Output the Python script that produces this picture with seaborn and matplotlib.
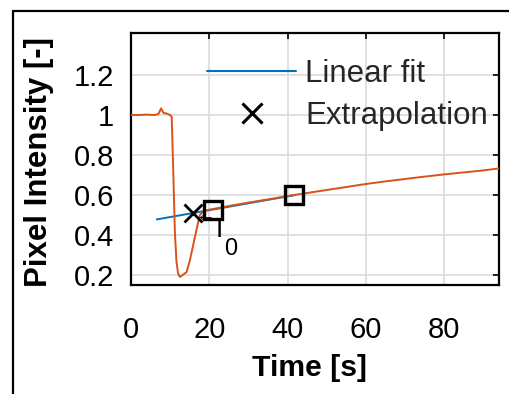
import matplotlib
matplotlib.use("Agg")
import matplotlib.pyplot as plt
import seaborn as sns
import pandas as pd
from matplotlib.lines import Line2D
from matplotlib.ticker import FixedLocator, FixedFormatter

# ---- data ----
time_s = [0, 2, 4, 6, 7, 7.7, 8.3, 9, 10, 10.4, 10.8, 11.2, 11.6, 12.0, 12.5,
          13.2, 14.2, 15.0, 16.0, 17.0, 17.6, 18.5, 19.5, 21, 25, 30, 35, 40,
          45, 50, 55, 60, 65, 70, 75, 80, 85, 90, 94]
intensity = [1.0, 1.0, 1.002, 1.0, 1.005, 1.033, 1.01, 1.008, 1.0, 0.99, 0.72,
             0.42, 0.27, 0.21, 0.19, 0.2, 0.215, 0.27, 0.36, 0.45, 0.50, 0.52,
             0.525, 0.53, 0.545, 0.562, 0.578, 0.595, 0.61, 0.625, 0.64, 0.655,
             0.668, 0.68, 0.692, 0.703, 0.713, 0.723, 0.733]
fit_t = [6.6, 42]
fit_y = [0.478, 0.600]
extrap_t = [15.8]
extrap_y = [0.51]
square_t = [21, 41.6]
square_y = [0.525, 0.60]
i0_t, i0_y = 22.48, 0.39        # "I" of the I0 label (baseline)
sub_t, sub_y = 23.9, 0.30       # subscript "0" (baseline)
arrow_t, arrow_y = 21.4, 0.49   # arrow of the label (right end, centre)
xticks = [0, 20, 40, 60, 80]
xtick_labels = ["0", "20", "40", "60", "80"]
yticks = [0.2, 0.4, 0.6, 0.8, 1.0, 1.2]
ytick_labels = ["0.2", "0.4", "0.6", "0.8", "1", "1.2"]

BLUE = "#0072BD"
ORANGE = "#D95319"

sns.set_theme(style="white")
plt.rcParams["font.family"] = ["Liberation Sans", "DejaVu Sans"]

fig = plt.figure(figsize=(5.09, 3.94), dpi=100)
ax = fig.add_axes([131 / 509, 1 - 285 / 394, (499 - 131) / 509, (285 - 33) / 394])

df = pd.DataFrame({"t": time_s, "y": intensity})
dfit = pd.DataFrame({"t": fit_t, "y": fit_y})

sns.lineplot(data=dfit, x="t", y="y", ax=ax, color=BLUE, lw=1.4, zorder=3)
sns.lineplot(data=df, x="t", y="y", ax=ax, color=ORANGE, lw=1.4, zorder=4)
ax.plot(extrap_t, extrap_y, linestyle="none", marker="x", color="black",
        markersize=12.5, markeredgewidth=2.0, zorder=6)
ax.text(i0_t, i0_y, "I", fontsize=19, color="black", ha="center",
        va="baseline", zorder=5)
ax.text(sub_t, sub_y, "0", fontsize=17, color="black", ha="left",
        va="baseline", zorder=5)
ax.text(arrow_t, arrow_y, "\u2190", fontsize=14, color="black", ha="right",
        va="center", zorder=5)
ax.plot(square_t, square_y, linestyle="none", marker="s", markerfacecolor="none",
        markeredgecolor="black", markersize=13.5, markeredgewidth=2.4, zorder=7)

ax.set_xlim(0, 94)
ax.set_ylim(0.15, 1.41)
ax.xaxis.set_major_locator(FixedLocator(xticks))
ax.xaxis.set_major_formatter(FixedFormatter(xtick_labels))
ax.yaxis.set_major_locator(FixedLocator(yticks))
ax.yaxis.set_major_formatter(FixedFormatter(ytick_labels))
ax.grid(True, color="#dddddd", lw=1.3)
ax.set_axisbelow(True)
for s in ax.spines.values():
    s.set_color("black")
    s.set_linewidth(1.6)
ax.tick_params(axis="both", direction="in", length=4, width=1.2, color="black",
               top=True, right=True, labelsize=21, labelcolor="black")
ax.tick_params(axis="x", pad=22)
ax.tick_params(axis="y", pad=12)

ax.set_xlabel("Time [s]", fontsize=21.7, fontweight="bold", color="black")
ax.set_ylabel("Pixel Intensity [-]", fontsize=22.5, fontweight="bold", color="black")
ax.xaxis.set_label_coords((310 - 131) / 368, -(354 - 285) / 252)
ax.yaxis.set_label_coords(-(131 - 54) / 368, (285 - 162) / 252)

handles = [Line2D([], [], color=BLUE, lw=1.5),
           Line2D([], [], linestyle="none", marker="x", color="black",
                  markersize=14.5, markeredgewidth=2.2)]
ax.legend(handles, ["Linear fit", "Extrapolation"], frameon=False, fontsize=22.5,
          loc="upper left", bbox_to_anchor=((207 - 131) / 368, (285 - 59) / 252),
          handlelength=2.85, handletextpad=0.3, labelspacing=0.38, borderpad=0,
          borderaxespad=0)

# outer border (partially visible frame)
fig.add_artist(Line2D([13 / 509, 13 / 509], [0, 1 - 11 / 394], color="black",
                      lw=1.6, transform=fig.transFigure))
fig.add_artist(Line2D([13 / 509, 1], [1 - 11 / 394, 1 - 11 / 394], color="black",
                      lw=1.6, transform=fig.transFigure))

fig.savefig("out.png", dpi=100, facecolor="white")
